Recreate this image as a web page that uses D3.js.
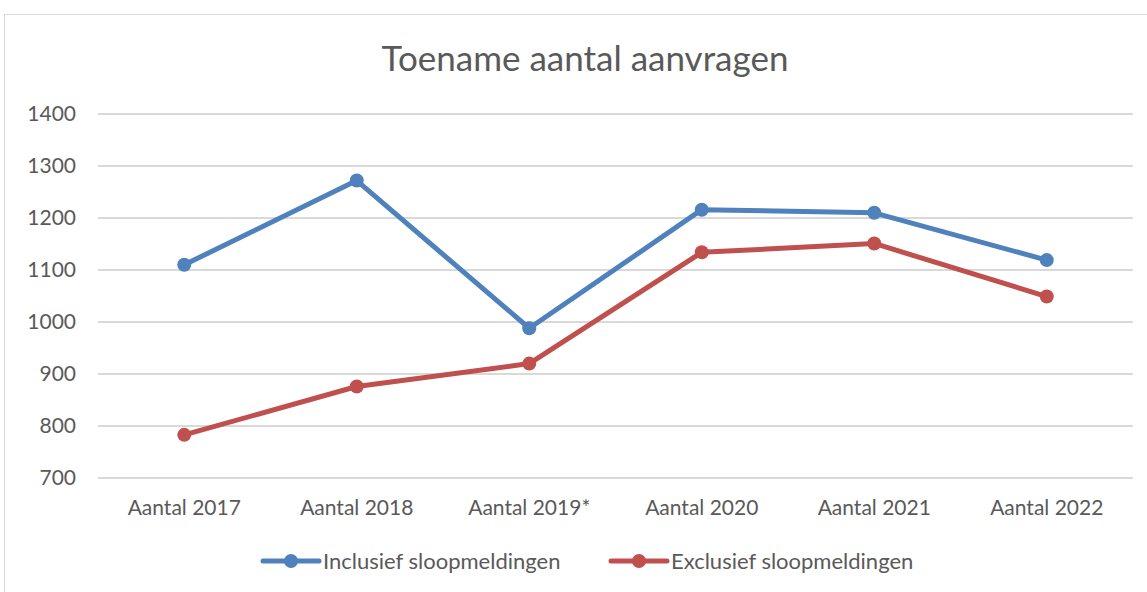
<!DOCTYPE html>
<html>
<head>
<meta charset="utf-8">
<script src="https://cdn.jsdelivr.net/npm/d3@7"></script>
<style>
  body { margin: 0; background: #fff; }
  text { font-family: Lato, "Open Sans", sans-serif; fill: #595959; }
</style>
</head>
<body>
<div id="chart"></div>
<script>
// chart data
var categories = ["Aantal 2017", "Aantal 2018", "Aantal 2019*", "Aantal 2020", "Aantal 2021", "Aantal 2022"];
var inclusief = [1110, 1272, 988, 1216, 1210, 1119];
var exclusief = [783, 876, 920, 1134, 1151, 1049];
var yTicks = [700, 800, 900, 1000, 1100, 1200, 1300, 1400];
var seriesNames = ["Inclusief sloopmeldingen", "Exclusief sloopmeldingen"];
var seriesColors = ["#4F81BD", "#C0504D"];

var svgWidth = 1147;
var svgHeight = 592;

var margin = { top: 114, right: 14, bottom: 114, left: 98 };
var width = svgWidth - margin.left - margin.right;
var height = 478 - margin.top;

var svg = d3.select("#chart")
    .append("svg")
    .attr("width", svgWidth)
    .attr("height", svgHeight);

// chart frame
svg.append("rect")
    .attr("x", 4.5)
    .attr("y", 14.5)
    .attr("width", 1160)
    .attr("height", 600)
    .attr("fill", "none")
    .attr("stroke", "#d9d9d9")
    .attr("stroke-width", 1);

// title
svg.append("text")
    .attr("x", 585)
    .attr("y", 71)
    .attr("text-anchor", "middle")
    .style("font-size", "35px")
    .text("Toename aantal aanvragen");

var chartGroup = svg.append("g")
    .attr("transform", `translate(${margin.left}, ${margin.top})`);

// scales
var xScale = d3.scaleBand()
    .domain(categories)
    .range([0, width]);

var yScale = d3.scaleLinear()
    .domain([700, 1400])
    .range([height, 0]);

// gridlines
chartGroup.selectAll(".grid")
    .data(yTicks)
    .enter()
    .append("line")
    .attr("x1", 0)
    .attr("x2", width)
    .attr("y1", d => yScale(d))
    .attr("y2", d => yScale(d))
    .attr("stroke", "#d9d9d9")
    .attr("stroke-width", 2);

// y axis
var leftAxis = d3.axisLeft(yScale).tickValues(yTicks).tickFormat(d3.format("d")).tickSize(0).tickPadding(22);
var yAxis = chartGroup.append("g").call(leftAxis);
yAxis.select(".domain").remove();
yAxis.selectAll("text")
    .style("font-size", "21px")
    .style("font-family", "Lato, sans-serif")
    .style("fill", "#595959");

// x axis
var bottomAxis = d3.axisBottom(xScale).tickSize(0).tickPadding(22);
var xAxis = chartGroup.append("g")
    .attr("transform", `translate(0, ${height})`)
    .call(bottomAxis);
xAxis.select(".domain").remove();
xAxis.selectAll("text")
    .style("font-size", "21px")
    .style("font-family", "Lato, sans-serif")
    .style("fill", "#595959");

// lines and markers
var series = [inclusief, exclusief];
var line = d3.line()
    .x((d, i) => xScale(categories[i]) + xScale.bandwidth() / 2)
    .y(d => yScale(d));

series.forEach(function(values, s) {
    chartGroup.append("path")
        .datum(values)
        .attr("d", line)
        .attr("fill", "none")
        .attr("stroke", seriesColors[s])
        .attr("stroke-width", 5)
        .attr("stroke-linejoin", "round")
        .attr("stroke-linecap", "round");

    chartGroup.selectAll(".dot" + s)
        .data(values)
        .enter()
        .append("circle")
        .attr("cx", (d, i) => xScale(categories[i]) + xScale.bandwidth() / 2)
        .attr("cy", d => yScale(d))
        .attr("r", 7)
        .attr("fill", seriesColors[s]);
});

// legend
var legendX = [263, 611];
seriesNames.forEach(function(name, s) {
    var g = svg.append("g").attr("transform", `translate(${legendX[s]}, 561)`);
    g.append("line")
        .attr("x1", 0)
        .attr("x2", 56)
        .attr("stroke", seriesColors[s])
        .attr("stroke-width", 5)
        .attr("stroke-linecap", "round");
    g.append("circle")
        .attr("cx", 28)
        .attr("r", 7)
        .attr("fill", seriesColors[s]);
    g.append("text")
        .attr("x", 60)
        .attr("y", 8)
        .style("font-size", "22px")
        .text(name);
});
</script>
</body>
</html>
